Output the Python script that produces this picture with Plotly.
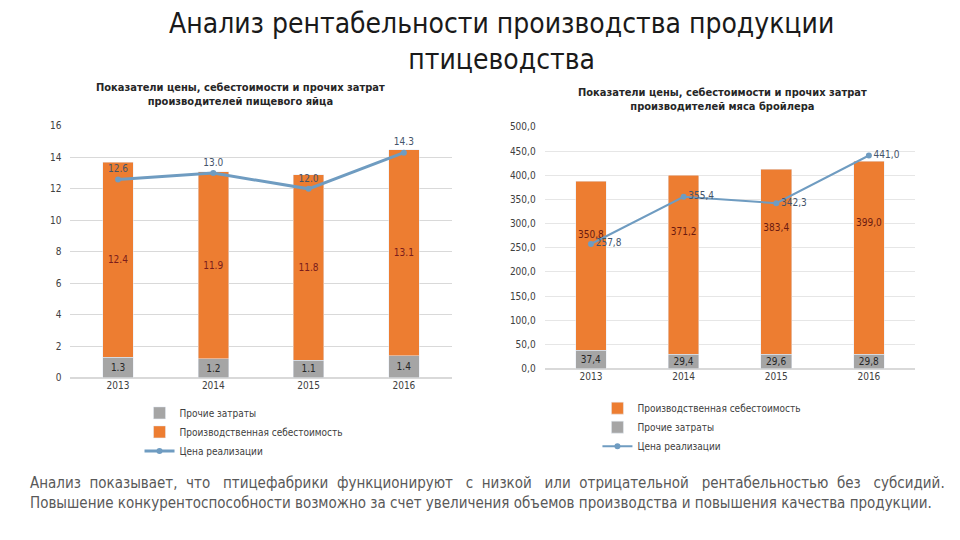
import plotly.graph_objects as go

# пищевое яйцо
egg_years = ["2013", "2014", "2015", "2016"]
egg_other = [1.3, 1.2, 1.1, 1.4]
egg_cost = [12.4, 11.9, 11.8, 13.1]
egg_price = [12.6, 13.0, 12.0, 14.3]

# мясо бройлера
broiler_years = ["2013", "2014", "2015", "2016"]
broiler_other = [37.4, 29.4, 29.6, 29.8]
broiler_cost = [350.8, 371.2, 383.4, 399.0]
broiler_price = [257.8, 355.4, 342.3, 441.0]

ORANGE = "#ed7d31"
GRAY = "#a5a5a5"
BLUE = "#6f9cc1"
FONT = "DejaVu Sans Condensed, Liberation Sans Narrow, DejaVu Sans, sans-serif"


def ru(v):
    return ("%.1f" % v).replace(".", ",")


fig = go.Figure()

# левый график
fig.add_trace(go.Bar(x=egg_years, y=egg_other, name="Прочие затраты", marker_color=GRAY,
                     width=0.32, text=["%.1f" % v for v in egg_other], textposition="inside",
                     insidetextanchor="middle", constraintext="none",
                     textfont=dict(size=10, color="#262626"), xaxis="x", yaxis="y", legend="legend"))
fig.add_trace(go.Bar(x=egg_years, y=egg_cost, name="Производственная себестоимость", marker_color=ORANGE,
                     width=0.32, text=["%.1f" % v for v in egg_cost], textposition="inside",
                     insidetextanchor="middle", constraintext="none",
                     textfont=dict(size=10, color="#7a1c1c"), xaxis="x", yaxis="y", legend="legend"))
fig.add_trace(go.Scatter(x=egg_years, y=egg_price, name="Цена реализации", mode="lines+markers+text",
                         line=dict(color=BLUE, width=3), marker=dict(size=6, color=BLUE),
                         text=["%.1f" % v for v in egg_price], textposition="top center",
                         textfont=dict(size=10, color="#44546a"), xaxis="x", yaxis="y", legend="legend"))

# правый график
fig.add_trace(go.Bar(x=broiler_years, y=broiler_other, name="Прочие затраты", marker_color=GRAY,
                     width=0.33, text=[ru(v) for v in broiler_other], textposition="inside",
                     insidetextanchor="middle", constraintext="none", legendrank=2,
                     textfont=dict(size=10, color="#262626"), xaxis="x2", yaxis="y2", legend="legend2"))
fig.add_trace(go.Bar(x=broiler_years, y=broiler_cost, name="Производственная себестоимость", marker_color=ORANGE,
                     width=0.33, legendrank=1, xaxis="x2", yaxis="y2", legend="legend2"))
# подписи себестоимости (в верхней части столбца)
fig.add_trace(go.Scatter(x=broiler_years, y=[o + c * 0.68 for o, c in zip(broiler_other, broiler_cost)],
                         mode="text", text=[ru(v) for v in broiler_cost], showlegend=False, hoverinfo="skip",
                         textfont=dict(size=10, color="#6b1a10"), xaxis="x2", yaxis="y2"))
fig.add_trace(go.Scatter(x=broiler_years, y=broiler_price, name="Цена реализации", mode="lines+markers+text",
                         line=dict(color=BLUE, width=2), marker=dict(size=6, color=BLUE), legendrank=3,
                         text=[ru(v) for v in broiler_price], textposition="middle right",
                         textfont=dict(size=10, color="#44546a"), xaxis="x2", yaxis="y2", legend="legend2"))

axis_font = dict(size=10, color="#404040")
fig.update_layout(
    width=960, height=540, barmode="stack", plot_bgcolor="white", paper_bgcolor="white",
    margin=dict(l=0, r=0, t=0, b=0), font=dict(family=FONT), separators=", ",
    xaxis=dict(domain=[0.065, 0.462], anchor="y", tickfont=axis_font, showline=False, ticks=""),
    yaxis=dict(domain=[0.3115, 0.788], anchor="x", range=[0, 16], dtick=2, tickfont=axis_font,
               gridcolor="#d9d9d9", zeroline=True, zerolinecolor="#d9d9d9", ticklabelstandoff=8),
    xaxis2=dict(domain=[0.559, 0.945], anchor="y2", tickfont=axis_font, showline=False, ticks=""),
    yaxis2=dict(domain=[0.3285, 0.786], anchor="x2", range=[0, 500], dtick=50, tickformat=".1f",
                tickfont=axis_font, gridcolor="#e6e6e6", zeroline=True, zerolinecolor="#d9d9d9",
                ticklabelstandoff=8),
    legend=dict(x=0.137, y=0.272, xanchor="left", yanchor="top", traceorder="normal",
                font=dict(size=10, color="#404040"), tracegroupgap=0, bgcolor="rgba(0,0,0,0)"),
    legend2=dict(x=0.614, y=0.281, xanchor="left", yanchor="top", traceorder="normal",
                 font=dict(size=10, color="#404040"), tracegroupgap=0, bgcolor="rgba(0,0,0,0)"),
)

fig.add_annotation(text="Анализ рентабельности производства продукции<br>птицеводства",
                   x=0.514, y=0.948, xref="paper", yref="paper", xanchor="center", yanchor="middle",
                   showarrow=False, font=dict(size=28, color="#1a1a1a"))
fig.add_annotation(text="<b>Показатели цены, себестоимости и прочих затрат<br>производителей пищевого яйца</b>",
                   x=0.2424, y=0.8474, xref="paper", yref="paper", xanchor="center", yanchor="middle",
                   showarrow=False, font=dict(size=11, color="#262626"))
fig.add_annotation(text="<b>Показатели цены, себестоимости и прочих затрат<br>производителей мяса бройлера</b>",
                   x=0.744, y=0.838, xref="paper", yref="paper", xanchor="center", yanchor="middle",
                   showarrow=False, font=dict(size=11, color="#262626"))
fig.add_annotation(text="Анализ  показывает,  что   птицефабрики  функционируют   с  низкой   или  "
                        "отрицательной   рентабельностью  без   субсидий.",
                   x=0.0209, y=0.111, xref="paper", yref="paper", xanchor="left", yanchor="middle",
                   showarrow=False, font=dict(size=15, color="#595959"))
fig.add_annotation(text="Повышение конкурентоспособности возможно за счет увеличения объемов производства и повышения качества продукции.",
                   x=0.0209, y=0.0733, xref="paper", yref="paper", xanchor="left", yanchor="middle",
                   showarrow=False, font=dict(size=15, color="#595959"))

fig.write_html("out.html")
